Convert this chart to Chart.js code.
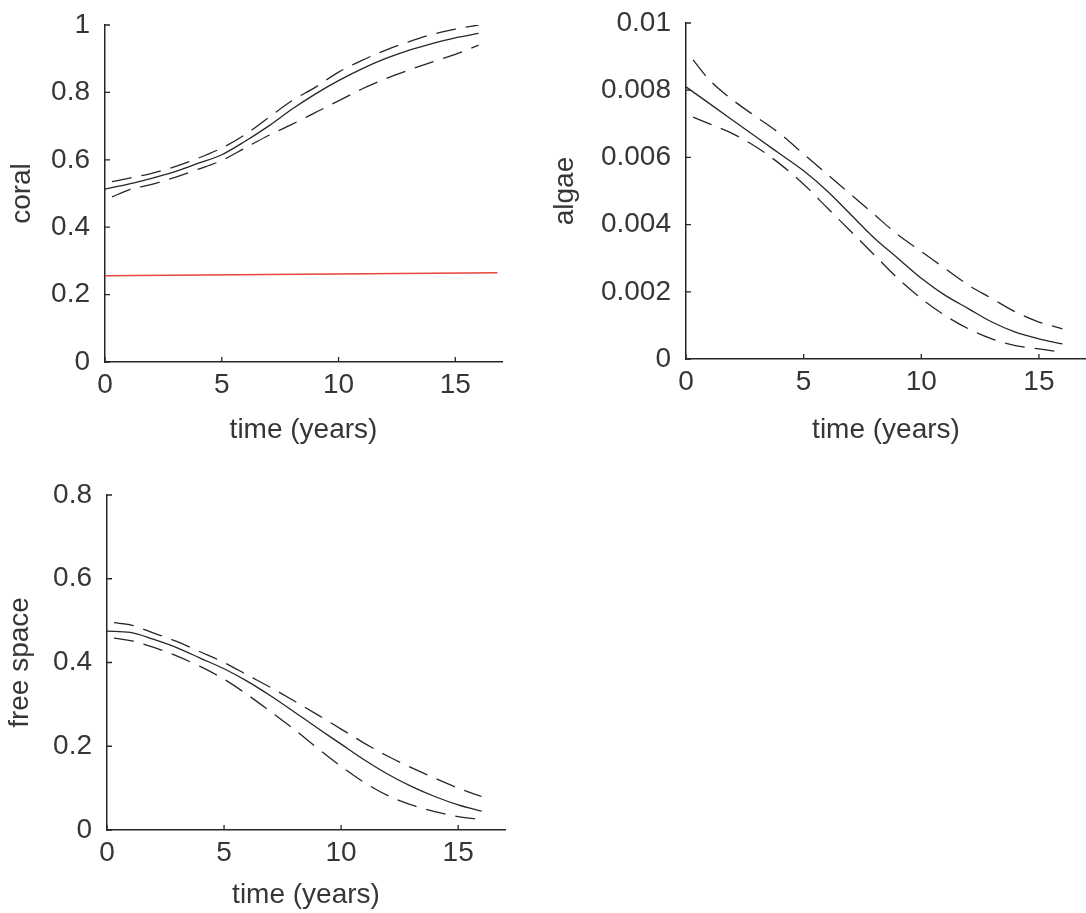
<!DOCTYPE html>
<html>
<head>
<meta charset="utf-8">
<script src="https://cdn.jsdelivr.net/npm/chart.js@4/dist/chart.umd.min.js"></script>
<style>
  html, body { margin: 0; padding: 0; background: #fff; }
  #wrap { position: relative; width: 1086px; height: 913px; overflow: hidden; }
  canvas { position: absolute; }
</style>
</head>
<body>
<div id="wrap">
  <canvas id="coral" width="520" height="450" style="left:0;top:0"></canvas>
  <canvas id="algae" width="546" height="450" style="left:540px;top:0"></canvas>
  <canvas id="free" width="520" height="443" style="left:0;top:470px"></canvas>
</div>
<script>
// time axis (years); the dashed band curves start a little after t = 0
const years = [0, 1, 2, 3, 4, 5, 6, 7, 8, 9, 10, 11, 12, 13, 14, 15, 16];
const bandYears = [0.3, 1, 2, 3, 4, 5, 6, 7, 8, 9, 10, 11, 12, 13, 14, 15, 16];
const timeTicks = [0, 5, 10, 15];

const coralMean = [0.513, 0.528, 0.545, 0.565, 0.59, 0.615, 0.655, 0.7, 0.75, 0.795, 0.835, 0.87, 0.9, 0.925, 0.945, 0.962, 0.975];
const coralUpper = [0.535, 0.545, 0.56, 0.58, 0.605, 0.635, 0.675, 0.725, 0.775, 0.815, 0.86, 0.895, 0.925, 0.95, 0.972, 0.988, 1.0];
const coralLower = [0.49, 0.51, 0.527, 0.548, 0.572, 0.598, 0.635, 0.672, 0.705, 0.74, 0.775, 0.81, 0.84, 0.866, 0.89, 0.913, 0.94];
const thresholdYears = [0, 16.8];
const coralThreshold = [0.256, 0.265];
const coralTicks = [0, 0.2, 0.4, 0.6, 0.8, 1];
const coralTickLabels = ["0", "0.2", "0.4", "0.6", "0.8", "1"];

const algaeMean = [0.0081, 0.0076, 0.0071, 0.0066, 0.0061, 0.0056, 0.005, 0.0043, 0.0036, 0.003, 0.0024, 0.0019, 0.0015, 0.0011, 0.0008, 0.0006, 0.00045];
const algaeUpper = [0.0089, 0.0083, 0.0077, 0.0072, 0.0067, 0.0061, 0.0055, 0.0049, 0.0043, 0.0037, 0.0032, 0.0027, 0.0022, 0.0018, 0.0014, 0.0011, 0.0009];
const algaeLower = [0.0072, 0.007, 0.0067, 0.0063, 0.0058, 0.0052, 0.0045, 0.0038, 0.0031, 0.0024, 0.0018, 0.0013, 0.0009, 0.0006, 0.0004, 0.0003, 0.0002];
const algaeTicks = [0, 0.002, 0.004, 0.006, 0.008, 0.01];
const algaeTickLabels = ["0", "0.002", "0.004", "0.006", "0.008", "0.01"];

const freeMean = [0.475, 0.472, 0.455, 0.435, 0.41, 0.385, 0.355, 0.32, 0.282, 0.243, 0.205, 0.167, 0.133, 0.104, 0.08, 0.06, 0.045];
const freeUpper = [0.495, 0.49, 0.47, 0.45, 0.425, 0.4, 0.37, 0.34, 0.308, 0.275, 0.241, 0.207, 0.176, 0.149, 0.124, 0.1, 0.08];
const freeLower = [0.458, 0.452, 0.436, 0.415, 0.39, 0.36, 0.323, 0.282, 0.24, 0.195, 0.152, 0.113, 0.082, 0.06, 0.044, 0.032, 0.025];
const freeTicks = [0, 0.2, 0.4, 0.6, 0.8];
const freeTickLabels = ["0", "0.2", "0.4", "0.6", "0.8"];

const INK = "#262626";
const TEXT = "#363636";
const FONT = { family: "'Liberation Sans', Arial, sans-serif", size: 28 };

const toPoints = (xs, ys) => xs.map((x, i) => ({ x: x, y: ys[i] }));

const curve = (xs, ys, dashed) => ({
  data: toPoints(xs, ys),
  borderColor: INK,
  borderWidth: 1.3,
  borderDash: dashed ? [20, 10] : [],
  pointRadius: 0,
  tension: 0.4,
  cubicInterpolationMode: "monotone",
  fill: false,
});

// matlab style ticks: short marks pointing into the plot
const innerTicks = {
  id: "innerTicks",
  afterDraw(chart) {
    const { ctx, chartArea, scales } = chart;
    ctx.save();
    ctx.strokeStyle = INK;
    ctx.lineWidth = 1.3;
    ctx.beginPath();
    scales.y.ticks.forEach((t) => {
      const py = scales.y.getPixelForValue(t.value);
      ctx.moveTo(chartArea.left, py);
      ctx.lineTo(chartArea.left + 5, py);
    });
    scales.x.ticks.forEach((t) => {
      const px = scales.x.getPixelForValue(t.value);
      ctx.moveTo(px, chartArea.bottom);
      ctx.lineTo(px, chartArea.bottom - 5);
    });
    ctx.stroke();
    ctx.restore();
  },
};

// fixed axis boxes, and no extra room reserved for the end labels
const fixBox = (s, size) => {
  if (s.isHorizontal()) s.height = size;
  else s.width = size;
  s.paddingTop = 0;
  s.paddingBottom = 0;
  s.paddingLeft = 0;
  s.paddingRight = 0;
};

const makePanel = (domId, p) => {
  const yTicks = p.yTicks;
  const yLabels = p.yLabels;
  return new Chart(document.getElementById(domId), {
    type: "line",
    data: { datasets: p.datasets },
    options: {
      responsive: false,
      animation: false,
      events: [],
      layout: { padding: { top: p.top, right: p.right, left: 0, bottom: 0 } },
      plugins: { legend: { display: false }, tooltip: { enabled: false } },
      scales: {
        x: {
          type: "linear",
          min: 0,
          max: 17,
          grid: { display: false, drawTicks: false },
          border: { display: true, color: INK, width: 1.5 },
          afterBuildTicks: (s) => { s.ticks = timeTicks.map((v) => ({ value: v })); },
          afterFit: (s) => fixBox(s, p.xHeight),
          ticks: {
            color: TEXT,
            font: FONT,
            padding: 6,
            maxRotation: 0,
            callback: (v) => String(v),
          },
          title: {
            display: true,
            text: "time (years)",
            color: TEXT,
            font: FONT,
            padding: { top: 0, bottom: p.xTitlePad },
          },
        },
        y: {
          type: "linear",
          min: yTicks[0],
          max: yTicks[yTicks.length - 1],
          grid: { display: false, drawTicks: false },
          border: { display: true, color: INK, width: 1.5 },
          afterBuildTicks: (s) => { s.ticks = yTicks.map((v) => ({ value: v })); },
          afterFit: (s) => fixBox(s, p.yWidth),
          ticks: {
            color: TEXT,
            font: FONT,
            padding: 15,
            callback: (v) => yLabels[yTicks.indexOf(v)],
          },
          title: {
            display: true,
            text: p.yTitle,
            color: TEXT,
            font: FONT,
            padding: { top: p.yTitlePad, bottom: 0 },
          },
        },
      },
    },
    plugins: [innerTicks],
  });
};

makePanel("coral", {
  yTitle: "coral",
  yTicks: coralTicks,
  yLabels: coralTickLabels,
  top: 25, right: 18, xHeight: 88, yWidth: 105, xTitlePad: 3, yTitlePad: 5,
  datasets: [
    curve(years, coralMean, false),
    curve(bandYears, coralUpper, true),
    curve(bandYears, coralLower, true),
    {
      data: toPoints(thresholdYears, coralThreshold),
      borderColor: "#e8453c",
      borderWidth: 1.6,
      pointRadius: 0,
      fill: false,
    },
  ],
});

makePanel("algae", {
  yTitle: "algae",
  yTicks: algaeTicks,
  yLabels: algaeTickLabels,
  top: 23, right: 0, xHeight: 91, yWidth: 146, xTitlePad: 3, yTitlePad: 8,
  datasets: [
    curve(years, algaeMean, false),
    curve(bandYears, algaeUpper, true),
    curve(bandYears, algaeLower, true),
  ],
});

makePanel("free", {
  yTitle: "free space",
  yTicks: freeTicks,
  yLabels: freeTickLabels,
  top: 25, right: 15, xHeight: 83, yWidth: 107, xTitlePad: 1, yTitlePad: 3,
  datasets: [
    curve(years, freeMean, false),
    curve(bandYears, freeUpper, true),
    curve(bandYears, freeLower, true),
  ],
});
</script>
</body>
</html>
